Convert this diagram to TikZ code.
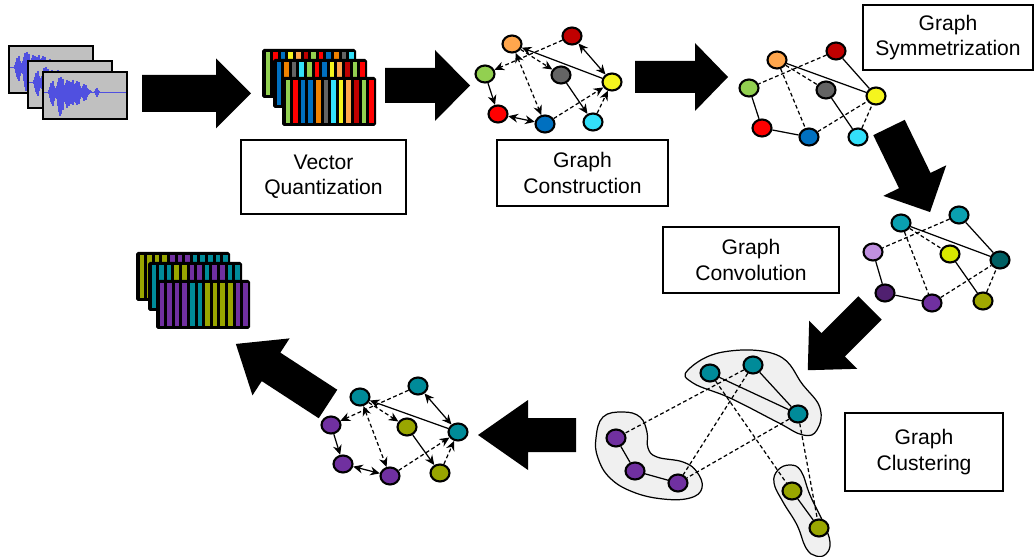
\documentclass[tikz,border=0pt]{standalone}
\usepackage{fontspec}
\setmainfont{Liberation Sans}
\usetikzlibrary{shapes.geometric,arrows.meta}

\definecolor{audiogray}{RGB}{192,192,192}
\definecolor{wavec}{RGB}{80,80,224}
\definecolor{vqGreen}{RGB}{146,208,80}
\definecolor{vqRed}{RGB}{255,0,0}
\definecolor{vqBlue}{RGB}{0,112,192}
\definecolor{vqOrange}{RGB}{240,130,0}
\definecolor{vqLOrange}{RGB}{255,166,77}
\definecolor{vqGray}{RGB}{100,100,100}
\definecolor{vqCyan}{RGB}{51,224,250}
\definecolor{vqYellow}{RGB}{245,245,30}
\definecolor{vqDRed}{RGB}{192,0,0}
\definecolor{cvTeal}{RGB}{10,160,176}
\definecolor{cvLav}{RGB}{192,144,224}
\definecolor{cvYG}{RGB}{216,232,0}
\definecolor{cvDTeal}{RGB}{0,96,100}
\definecolor{cvDPurple}{RGB}{80,32,112}
\definecolor{cvPurple}{RGB}{112,48,160}
\definecolor{cvOlive}{RGB}{160,168,0}
\definecolor{fTeal}{RGB}{0,139,153}
\definecolor{fPurple}{RGB}{112,48,160}
\definecolor{fOlive}{RGB}{153,166,0}
\definecolor{blobgray}{RGB}{240,240,240}

\def\wavelist{6/2/2, 7/5/6, 8/9/10, 9/7/12, 10/11/14, 11/6/9, 12/4/6, 13/3/4, 14/6/7, 15/10/14, 16/14/20, 17/12/24, 18/15/22, 19/9/15, 20/13/18, 21/7/10, 22/5/8, 23/9/12, 24/12/16, 25/8/12, 26/11/14, 27/6/9, 28/10/12, 29/7/10, 30/12/13, 31/8/10, 32/5/7, 33/9/11, 34/11/13, 35/7/8, 36/10/12, 37/6/7, 38/4/5, 39/3/4, 40/6/6, 41/8/9, 42/5/6, 43/7/8, 44/4/5, 45/3/3, 46/2/2, 47/1.5/1.5, 48/1/1, 52/1/1, 53/3/3, 54/4/5, 55/2/3, 56/1/1}

\newcommand{\myaudioframe}[3]{%
  \fill[audiogray] (#1,#2) rectangle ++(84,47);
  \begin{scope}
    \clip (#1,#2) rectangle ++(84,47);
    \draw[wavec,line width=0.5pt] (#1,#3) -- ++(84,0);
    \foreach \wa/\wb/\wc in \wavelist
      \draw[wavec,line width=0.8pt] ({#1+\wa},{#3-\wb}) -- ({#1+\wa},{#3+\wc});
  \end{scope}
  \draw[line width=1.1pt] (#1,#2) rectangle ++(84,47);
}

\newcommand{\mystripeframe}[3]{%
  \fill[black,rounded corners=1pt] (#1,#2) rectangle ++(94,49);
  \foreach \cc [count=\ii from 0] in {#3}
    \fill[\cc] ({#1+3.5+\ii*7.6},{#2+3}) rectangle ++(4.6,43);
}

\newcommand{\mybigarrow}[7]{% x y angle L bw hw hl
  \begin{scope}[shift={(#1,#2)},rotate=#3]
    \fill[black] (0,-#5) -- ({#4-#7},-#5) -- ({#4-#7},-#6) -- (#4,0) -- ({#4-#7},#6) -- ({#4-#7},#5) -- (0,#5) -- cycle;
  \end{scope}
}

\begin{document}
\begin{tikzpicture}[x=0.02cm,y=-0.02cm,
  gn/.style={ellipse,draw=black,line width=1.2pt,minimum width=0.38cm,minimum height=0.34cm,inner sep=0pt},
  ed/.style={line width=0.7pt},
  dd/.style={line width=0.7pt,dash pattern=on 2.2pt off 1.5pt},
  >={Stealth[length=5.5pt,width=5pt]},
  lbl/.style={draw=black,line width=1.1pt,align=center,font=\fontsize{12}{14.5}\selectfont,inner sep=0pt},
  blob/.style={fill=blobgray,draw=black,line width=0.7pt}]
\useasboundingbox (0,0) rectangle (1035,557);

% audio frames
\myaudioframe{9}{46}{67}
\myaudioframe{28}{61}{82}
\myaudioframe{43}{72}{92}

% big arrows
\mybigarrow{142}{93.5}{0}{109}{18.5}{35}{35}
\mybigarrow{385}{85.5}{0}{85}{17.5}{35.5}{35}
\mybigarrow{635}{77}{0}{93}{16}{34}{33}
\mybigarrow{889}{127.5}{-64.1}{94}{17.5}{35}{35}
\mybigarrow{870}{308}{-135}{88}{16.5}{34}{36}
\mybigarrow{576}{435}{180}{98}{17}{35}{50}
\mybigarrow{328}{404}{146.9}{110}{17}{34}{42}

% VQ stripes
\mystripeframe{262}{49}{vqGreen,vqRed,vqBlue,vqYellow,vqLOrange,vqDRed,vqGreen,vqRed,vqBlue,vqOrange,vqGray,vqCyan}
\mystripeframe{273}{59}{vqBlue,vqOrange,vqGray,vqCyan,vqGreen,vqRed,vqBlue,vqYellow,vqLOrange,vqDRed,vqGreen,vqRed}
\mystripeframe{282}{77}{vqGreen,vqRed,vqBlue,vqBlue,vqOrange,vqGray,vqCyan,vqYellow,vqLOrange,vqDRed,vqGreen,vqRed}

% output stripes
\mystripeframe{136}{252}{fOlive,fOlive,fOlive,fOlive,fPurple,fPurple,fPurple,fTeal,fTeal,fTeal,fTeal,fTeal}
\mystripeframe{148}{262}{fTeal,fTeal,fTeal,fOlive,fOlive,fPurple,fPurple,fTeal,fPurple,fPurple,fTeal,fTeal}
\mystripeframe{156}{280}{fPurple,fPurple,fPurple,fPurple,fTeal,fTeal,fOlive,fOlive,fOlive,fOlive,fPurple,fPurple}

% labels
\node[lbl,minimum width=3.3cm,minimum height=1.48cm] (tVQ) at (323.5,177) {Vector\\Quantization};
\node[lbl,minimum width=3.42cm,minimum height=1.32cm] (tGC) at (582.5,173) {Graph\\Construction};
\node[lbl,minimum width=3.4cm,minimum height=1.3cm] (tGS) at (948,37.5) {Graph\\Symmetrization};
\node[lbl,minimum width=3.52cm,minimum height=1.32cm] (tCV) at (751,260) {Graph\\Convolution};
\node[lbl,minimum width=3.16cm,minimum height=1.56cm] (tCL) at (924,452) {Graph\\Clustering};

% graph construction
\node[gn,fill=vqLOrange] (cO) at (512,44) {};
\node[gn,fill=vqDRed] (cD) at (572,36) {};
\node[gn,fill=vqGreen] (cG) at (485,74) {};
\node[gn,fill=vqGray] (cK) at (561,75) {};
\node[gn,fill=vqYellow] (cW) at (612,82) {};
\node[gn,fill=vqRed] (cR) at (498,114) {};
\node[gn,fill=vqBlue] (cB) at (545,124) {};
\node[gn,fill=vqCyan] (cC) at (593,122) {};
\draw[dd,->] (cD) -- (cG);
\draw[dd,->] (cO) -- (cK);
\draw[dd,<->] (cO) -- (cB);
\draw[ed,->] (cW) -- (cO);
\draw[ed,<->] (cD) -- (cW);
\draw[ed,->] (cK) -- (cC);
\draw[dd,->] (cB) -- (cW);
\draw[dd,->] (cC) -- (cW);
\draw[ed,->] (cG) -- (cR);
\draw[ed,<->] (cR) -- (cB);

% graph symmetrization
\node[gn,fill=vqLOrange] (sO) at (777,60) {};
\node[gn,fill=vqDRed] (sD) at (836,51) {};
\node[gn,fill=vqGreen] (sG) at (749,88) {};
\node[gn,fill=vqGray] (sK) at (826,90) {};
\node[gn,fill=vqYellow] (sW) at (876,96) {};
\node[gn,fill=vqRed] (sR) at (762,128) {};
\node[gn,fill=vqBlue] (sB) at (809,137) {};
\node[gn,fill=vqCyan] (sC) at (858,137) {};
\draw[dd] (sD) -- (sG);
\draw[dd] (sO) -- (sK);
\draw[dd] (sO) -- (sB);
\draw[ed] (sW) -- (sO);
\draw[ed] (sD) -- (sW);
\draw[ed] (sK) -- (sC);
\draw[dd] (sB) -- (sW);
\draw[dd] (sC) -- (sW);
\draw[ed] (sG) -- (sR);
\draw[ed] (sR) -- (sB);

% graph convolution
\node[gn,fill=cvTeal] (vTL) at (901,223) {};
\node[gn,fill=cvTeal] (vTR) at (959,215) {};
\node[gn,fill=cvLav] (vL) at (873,252) {};
\node[gn,fill=cvYG] (vY) at (950,254) {};
\node[gn,fill=cvDTeal] (vR) at (1000,260) {};
\node[gn,fill=cvDPurple] (vBL) at (885,293) {};
\node[gn,fill=cvPurple] (vB) at (932,303) {};
\node[gn,fill=cvOlive] (vO) at (983,301) {};
\draw[dd] (vTR) -- (vL);
\draw[dd] (vTL) -- (vY);
\draw[dd] (vTL) -- (vB);
\draw[ed] (vTL) -- (vR);
\draw[ed] (vTR) -- (vR);
\draw[ed] (vY) -- (vO);
\draw[dd] (vB) -- (vR);
\draw[dd] (vO) -- (vR);
\draw[ed] (vL) -- (vBL);
\draw[ed] (vBL) -- (vB);

% graph clustering
\draw[blob] plot[smooth cycle,tension=0.7] coordinates {(688,370) (723,352) (777,355) (803,385) (820,408) (817,430) (803,435) (777,422) (730,398) (693,383)};
\draw[blob] plot[smooth cycle,tension=0.7] coordinates {(596,438) (603,417) (623,412) (640,417) (647,432) (648,448) (657,457) (683,462) (697,472) (702,488) (690,498) (663,499) (633,492) (610,478) (598,458)};
\draw[blob] plot[smooth cycle,tension=0.7] coordinates {(774,483) (778,470) (790,465) (801,471) (810,495) (823,522) (830,542) (826,554) (816,556) (806,548) (797,525) (783,502)};
\node[gn,fill=fTeal] (k1) at (710,373) {};
\node[gn,fill=fTeal] (k2) at (753,365) {};
\node[gn,fill=fTeal] (k3) at (798,414) {};
\node[gn,fill=fPurple] (kp1) at (616,438) {};
\node[gn,fill=fPurple] (kp2) at (635,471) {};
\node[gn,fill=fPurple] (kp3) at (678,483) {};
\node[gn,fill=fOlive] (ko1) at (792,491) {};
\node[gn,fill=fOlive] (ko2) at (819,528) {};
\draw[ed] (k1) -- (k3);
\draw[ed] (k2) -- (k3);
\draw[dd] (k2) -- (kp1);
\draw[dd] (k2) -- (kp3);
\draw[dd] (k3) -- (kp3);
\draw[dd] (k1) -- (ko1);
\draw[dd] (k3) -- (ko2);
\draw[ed] (kp1) -- (kp2);
\draw[ed] (kp2) -- (kp3);
\draw[ed] (ko1) -- (ko2);

% final graph
\node[gn,fill=fTeal] (f1) at (360,397) {};
\node[gn,fill=fTeal] (f2) at (418,386) {};
\node[gn,fill=fPurple] (f3) at (331,425) {};
\node[gn,fill=fOlive] (f4) at (407,427) {};
\node[gn,fill=fTeal] (f5) at (458,432) {};
\node[gn,fill=fPurple] (f6) at (343,464) {};
\node[gn,fill=fPurple] (f7) at (390,476) {};
\node[gn,fill=fOlive] (f8) at (440,473) {};
\draw[dd,->] (f2) -- (f3);
\draw[dd,->] (f1) -- (f4);
\draw[dd,<->] (f1) -- (f7);
\draw[ed,->] (f5) -- (f1);
\draw[ed,<->] (f2) -- (f5);
\draw[ed,->] (f4) -- (f8);
\draw[dd,->] (f7) -- (f5);
\draw[dd,->] (f8) -- (f5);
\draw[ed,->] (f3) -- (f6);
\draw[ed,<->] (f6) -- (f7);
\end{tikzpicture}
\end{document}
